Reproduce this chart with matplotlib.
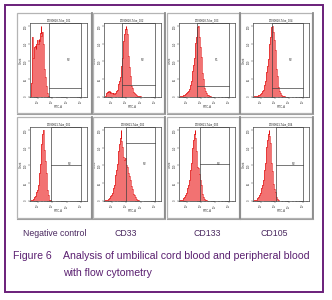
import numpy as np
import matplotlib
matplotlib.use("Agg")
import matplotlib.pyplot as plt
from matplotlib.patches import Rectangle

W, H = 332, 300
plt.rcParams['font.family'] = ['Liberation Sans', 'DejaVu Sans']

# histogram counts (percent of peak), 0.05-decade FITC-A channels starting at log10 = start
bin_w = 0.05
starts = [1.55, 1.55, 1.55, 1.55, 1.55, 1.55, 1.55, 1.55]

neg_top = [20, 85, 55, 60, 70, 72, 68, 75, 80, 74, 82, 78, 90, 100, 86, 92, 75, 58,
           40, 28, 16, 9, 5, 2, 1, 0.5]
cd33_top = [2, 5, 7, 8, 7, 8, 6, 7, 5, 6, 4, 5, 4, 5, 6, 8, 10, 14, 18, 22, 28, 35,
            44, 55, 66, 78, 88, 95, 100, 96, 88, 74, 58, 42, 30, 22, 16, 12, 9, 7,
            5, 4, 3, 3, 2, 2, 1, 1, 1, 1, 0.5, 0.5]
cd133_top = [1, 2, 2, 2, 3, 3, 4, 4, 5, 6, 7, 9, 11, 13, 17, 22, 28, 36, 45, 55, 66,
             76, 85, 93, 98, 100, 94, 84, 70, 56, 44, 34, 25, 18, 13, 9, 6, 4, 3,
             3, 2, 2, 1, 1, 0.5]
cd105_top = [1, 1, 2, 2, 2, 3, 3, 3, 4, 5, 6, 8, 10, 13, 17, 22, 28, 35, 44, 54, 64,
             74, 84, 92, 98, 100, 99, 92, 80, 66, 52, 40, 30, 21, 14, 9, 6, 4, 3,
             2, 2, 1, 1, 0.5]
neg_bot = [1, 2, 3, 4, 5, 7, 9, 12, 16, 22, 30, 40, 52, 66, 80, 94, 100, 88, 72, 56,
           40, 26, 15, 8, 4, 2, 1, 0.5]
cd33_bot = [1, 1, 2, 2, 3, 4, 5, 7, 9, 11, 14, 18, 23, 29, 36, 44, 52, 60, 70, 80,
            88, 100, 84, 76, 66, 62, 58, 60, 55, 50, 48, 44, 40, 35, 30, 26, 21,
            17, 13, 10, 8, 6, 4, 3, 2, 1.5, 1, 0.5]
cd133_bot = [1, 1, 2, 3, 4, 5, 7, 9, 11, 14, 18, 23, 29, 36, 44, 54, 64, 75, 86,
             94, 100, 88, 70, 56, 48, 46, 44, 38, 30, 22, 15, 10, 6, 4, 3, 2, 1, 0.5]
cd105_bot = [1, 1, 2, 3, 4, 5, 7, 9, 11, 14, 18, 23, 29, 36, 44, 54, 64, 76, 86, 94,
             100, 92, 82, 68, 54, 42, 32, 24, 17, 12, 8, 5, 3, 2, 1, 0.5]

counts = [neg_top, cd33_top, cd133_top, cd105_top, neg_bot, cd33_bot, cd133_bot, cd105_bot]

# gates: vertical marker (log10 FITC-A) and horizontal level (% of peak)
gate_x = [2.77, 2.72, 2.75, 2.78, 2.94, 3.0, 2.97, 3.08]
gate_y = [13, 17, 15, 12, 50, 81, 52, 50]
gate_names = ["P2", "P2", "P1", "P2", "P2", "P2", "P2", "P2"]

titles = ["20090828-Tube_001", "20090828-Tube_002", "20090828-Tube_003", "20090828-Tube_004",
          "20090821-Tube_001", "20090821-Tube_002", "20090821-Tube_003", "20090821-Tube_004"]
col_labels = ["Negative control", "CD33", "CD133", "CD105"]
caption_1 = "Analysis of umbilical cord blood and peripheral blood"
caption_2 = "with flow cytometry"

fig = plt.figure(figsize=(W / 100, H / 100), dpi=100)


def px_axes(x0, y0, x1, y1, **kw):
    return fig.add_axes([x0 / W, 1 - y1 / H, (x1 - x0) / W, (y1 - y0) / H], **kw)


def px_rect(x0, y0, x1, y1, **kw):
    fig.patches.append(Rectangle((x0 / W, 1 - y1 / H), (x1 - x0) / W, (y1 - y0) / H,
                                 transform=fig.transFigure, fill=False, **kw))


def px_line(xs, ys, **kw):
    fig.add_artist(plt.Line2D([x / W for x in xs], [1 - y / H for y in ys],
                              transform=fig.transFigure, **kw))


purple = '#6a1f7a'
px_rect(5, 5, 323, 292, edgecolor=purple, lw=1.4)

frames = [(17, 91), (93, 164), (167, 239), (240, 312)]
ax_cols = [(30, 87), (104, 161), (179, 235), (253, 309)]
rows = [((13, 113), (23, 97)), ((117, 218), (127, 201))]

for i in range(8):
    r, c = divmod(i, 4)
    (fy0, fy1), (ay0, ay1) = rows[r]
    px_rect(frames[c][0], fy0, frames[c][1], fy1, edgecolor='#b4b4b4', lw=0.9)
    px_line([frames[c][1] + 1.2] * 2, [fy0, fy1 + 1], color='#8a8a8a', lw=1.3)
    px_line([frames[c][0], frames[c][1] + 1.2], [fy1 + 1] * 2, color='#a0a0a0', lw=0.8)
    ax = px_axes(ax_cols[c][0], ay0, ax_cols[c][1], ay1)
    n = len(counts[i])
    edges = 10 ** (starts[i] + bin_w * np.arange(n + 1))
    ax.stairs(counts[i], edges, fill=True, color='#f27272', lw=0)
    ax.stairs(counts[i], edges, color='#e01010', lw=0.4)
    ax.set_xscale('log')
    ax.set_xlim(10 ** 1.45, 262144)
    ax.set_ylim(0, 104)
    gx = 10 ** gate_x[i]
    right = 1e5
    ax.plot([gx, gx, right, right], [0, 104, 104, 0], color='#404040', lw=0.5, clip_on=False)
    ax.plot([gx, right], [gate_y[i], gate_y[i]], color='#404040', lw=0.5)
    ax.text(10 ** ((gate_x[i] + 5) / 2 + 0.25), 52, gate_names[i], fontsize=2.2,
            ha='center', va='center', color='#333333')
    ax.set_xticks([1e2, 1e3, 1e4, 1e5])
    ax.set_xticklabels(["10²", "10³", "10⁴", "10⁵"], rotation=90)
    ax.set_yticks([0, 25, 50, 75, 100])
    ax.set_yticklabels(["0", "50", "100", "150", "200"], rotation=90)
    ax.tick_params(labelsize=1.8, length=1.2, width=0.3, pad=0.6, colors='#333333')
    ax.tick_params(which='minor', length=0.8, width=0.3)
    for s in ax.spines.values():
        s.set_linewidth(0.5)
        s.set_color('#444444')
    ax.set_title(titles[i], fontsize=1.9, pad=1.2, color='#222222')
    ax.set_xlabel("FITC-A", fontsize=2.0, labelpad=1.0, color='#333333')
    ax.set_ylabel("Count", fontsize=2.0, labelpad=0.8, color='#333333')

label_x = [55, 126, 207, 274]
for lx, lab in zip(label_x, col_labels):
    fig.text(lx / W, 1 - 233 / H, lab, fontsize=6.3, ha='center', va='center', color='#4a2860')

fig.text(13 / W, 1 - 256 / H, "Figure 6", fontsize=7.6, ha='left', va='center', color='#5a1f70')
fig.text(63 / W, 1 - 256 / H, caption_1, fontsize=7.6, ha='left', va='center', color='#5a1f70')
fig.text(63 / W, 1 - 273 / H, caption_2, fontsize=7.6, ha='left', va='center', color='#5a1f70')

fig.savefig("out.png", dpi=100)
